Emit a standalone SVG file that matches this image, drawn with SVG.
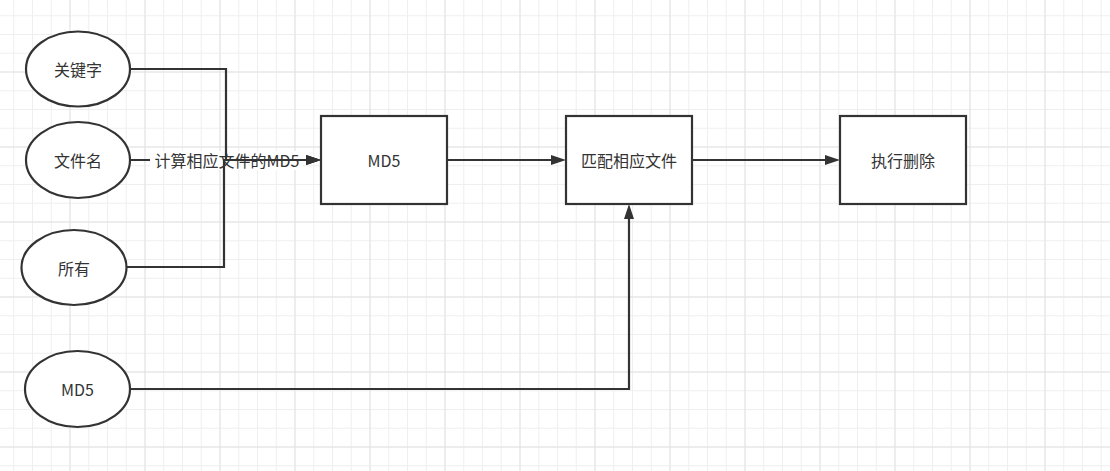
<svg xmlns="http://www.w3.org/2000/svg" width="1110" height="471" viewBox="0 0 1110 471">
  <defs>
    <pattern id="gridMinor" patternUnits="userSpaceOnUse" x="13.25" y="15.25" width="18.75" height="18.75">
      <path d="M0.5,0 V18.75 M0,0.5 H18.75" fill="none" stroke="#efefef" stroke-width="1"/>
    </pattern>
    <pattern id="gridMajor" patternUnits="userSpaceOnUse" x="-5.5" y="-3.5" width="75" height="75">
      <path d="M0.5,0 V75 M0,0.5 H75" fill="none" stroke="#e2e2e2" stroke-width="1"/>
    </pattern>
    <marker id="arrow" markerUnits="userSpaceOnUse" markerWidth="15" markerHeight="10" refX="9" refY="5" orient="auto">
      <path d="M0,0 L15,5 L0,10 z" fill="#333333"/>
    </marker>
  </defs>
  <style>
    .shape { fill: #ffffff; stroke: #333333; stroke-width: 2.2; }
    .edge { fill: none; stroke: #333333; stroke-width: 2.2; }
    .label { font-family: "Noto Sans CJK SC", "Noto Sans", sans-serif; font-size: 16px; fill: #333333; text-anchor: middle; dominant-baseline: central; }
  </style>
  <rect width="1110" height="471" fill="#ffffff"/>
  <rect width="1110" height="471" fill="url(#gridMinor)"/>
  <rect width="1110" height="471" fill="url(#gridMajor)"/>

  <g id="connectors">
    <g id="edge-filename">
      <path class="edge" d="M130,160 H315" marker-end="url(#arrow)"/>
      <rect x="150" y="151" width="153" height="19" fill="#ffffff"/>
      <text class="label" x="227" y="160">计算相应文件的MD5</text>
    </g>
    <path id="edge-keyword" class="edge" d="M130,69 H226 V160 H315" marker-end="url(#arrow)"/>
    <path id="edge-all" class="edge" d="M126,267 H224 V160 H315" marker-end="url(#arrow)"/>
    <path id="edge-md5-match" class="edge" d="M447,160 H560" marker-end="url(#arrow)"/>
    <path id="edge-match-delete" class="edge" d="M692,160 H834" marker-end="url(#arrow)"/>
    <path id="edge-md5in-match" class="edge" d="M130,389 H629 V210" marker-end="url(#arrow)"/>
  </g>

  <g id="node-keyword">
    <ellipse class="shape" cx="78" cy="69" rx="52" ry="37.5"/>
    <text class="label" x="78" y="69">关键字</text>
  </g>
  <g id="node-filename">
    <ellipse class="shape" cx="78" cy="160" rx="52" ry="38"/>
    <text class="label" x="78" y="160">文件名</text>
  </g>
  <g id="node-all">
    <ellipse class="shape" cx="74" cy="267.5" rx="52.5" ry="37.5"/>
    <text class="label" x="74" y="267.5">所有</text>
  </g>
  <g id="node-md5-input">
    <ellipse class="shape" cx="77.5" cy="389" rx="52.5" ry="38"/>
    <text class="label" x="77.5" y="389">MD5</text>
  </g>
  <g id="node-md5">
    <rect class="shape" x="321" y="116" width="126" height="88"/>
    <text class="label" x="384" y="160">MD5</text>
  </g>
  <g id="node-match">
    <rect class="shape" x="566" y="116" width="126" height="88"/>
    <text class="label" x="629" y="160">匹配相应文件</text>
  </g>
  <g id="node-delete">
    <rect class="shape" x="840" y="116" width="126" height="88"/>
    <text class="label" x="903" y="160">执行删除</text>
  </g>
</svg>
